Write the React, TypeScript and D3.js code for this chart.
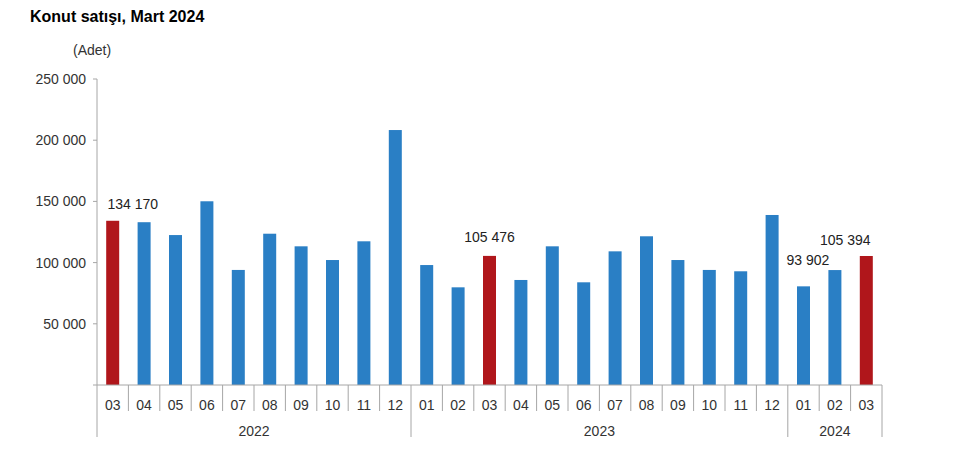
import React from "react";
import * as d3 from "d3";

const months = ["03","04","05","06","07","08","09","10","11","12","01","02","03","04","05","06","07","08","09","10","11","12","01","02","03"];
const years = ["2022","2023","2024"];
const yearSpans = [10, 12, 3];
const values = [134170,133000,122500,150100,94000,123600,113300,102100,117400,208300,98000,79800,105476,85800,113300,83900,109200,121500,102100,94000,92900,138900,80600,93902,105394];
const highlighted = [0, 12, 24];
const labelled = [0, 12, 23, 24];
const labelDx = [20, 0, -27, -21];
const labelDy = [17, 19, 10, 16];
const yTicks = [50000, 100000, 150000, 200000, 250000];

const W = 955, H = 475;
const left = 97, right = 882, top = 79, bottom = 385;
const font = "Liberation Sans, Arial, sans-serif";
const fmt = (v: number) => d3.format(",")(v).replace(/,/g, " ");

export default function App() {
  const x = d3.scaleBand<number>().domain(d3.range(values.length)).range([left, right]);
  const step = x.step();
  const y = d3.scaleLinear().domain([0, 250000]).range([bottom, top]);
  const bx = (i: number) => (x(i) as number);
  const bEdge = (i: number) => left + i * step;
  let acc = 0;
  const yearBounds = yearSpans.map((s) => { const a = acc; acc += s; return [a, acc]; });
  const axisColor = "#a6a6a6";
  return (
    <svg width={W} height={H} style={{ position: "absolute", left: 0, top: 0, background: "#fff" }} fontFamily={font}>
      <text x={30} y={22} fontSize={16} fontWeight="bold" fill="#000">Konut satışı, Mart 2024</text>
      <text x={73} y={55} fontSize={14} fill="#333">(Adet)</text>
      <line x1={left} x2={left} y1={top} y2={bottom} stroke={axisColor} />
      {yTicks.map((t) => (
        <g key={t}>
          <line x1={left - 4} x2={left} y1={y(t)} y2={y(t)} stroke={axisColor} />
          <text x={86} y={y(t)} dy="0.35em" textAnchor="end" fontSize={14} fill="#333">{fmt(t)}</text>
        </g>
      ))}
      {values.map((v, i) => (
        <rect key={i} x={bx(i) + step / 2 - 6.5} width={13} y={y(v)} height={y(0) - y(v)} fill={highlighted.includes(i) ? "#b0161b" : "#2a7fc5"} />
      ))}
      <line x1={left - 4} x2={right} y1={bottom} y2={bottom} stroke={axisColor} />
      {d3.range(values.length + 1).map((i) => {
        const isYear = yearBounds.some(([a, b]) => a === i || b === i);
        return <line key={i} x1={bEdge(i)} x2={bEdge(i)} y1={bottom} y2={isYear ? 437 : 411} stroke={axisColor} />;
      })}
      {months.map((m, i) => (
        <text key={i} x={bx(i) + step / 2} y={405} dy="0.35em" textAnchor="middle" fontSize={14} fill="#333">{m}</text>
      ))}
      {years.map((yr, k) => (
        <text key={yr} x={(bEdge(yearBounds[k][0]) + bEdge(yearBounds[k][1])) / 2} y={431} dy="0.35em" textAnchor="middle" fontSize={14} fill="#333">{yr}</text>
      ))}
      {labelled.map((i, k) => (
        <text key={i} x={bx(i) + step / 2 + labelDx[k]} y={y(values[i]) - labelDy[k]} dy="0.35em" textAnchor="middle" fontSize={14} fill="#222">{fmt(values[i])}</text>
      ))}
    </svg>
  );
}
